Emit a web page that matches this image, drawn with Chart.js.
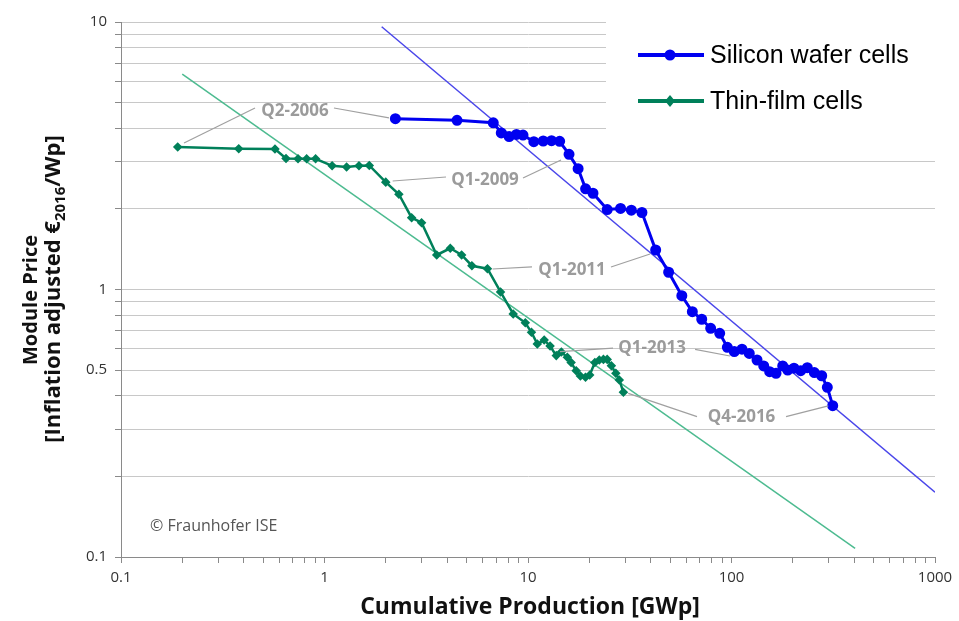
<!DOCTYPE html>
<html><head><meta charset="utf-8">
<script src="https://cdn.jsdelivr.net/npm/chart.js@4.4.0/dist/chart.umd.min.js"></script>
<style>html,body{margin:0;padding:0;background:#fff;}#wrap{width:959px;height:621px;position:relative;}</style>
</head><body><div id="wrap"><canvas id="c" width="959" height="621"></canvas></div>
<script>
// ---- data (cumulative production GWp, module price EUR2016/Wp) ----
const siliconX = [2.23,4.48,6.75,7.39,8.08,8.78,9.45,10.68,11.88,13.05,14.31,15.91,17.63,19.19,20.86,24.5,28.5,32.2,36.3,42.4,49.1,57.0,64.2,71.4,79.0,87.5,95.4,103.2,112.6,122.3,133.5,144.0,154.0,165.5,178.5,188.9,202.8,218.8,235.8,255.3,277.5,295.7,314.3];
const siliconY = [4.35,4.29,4.20,3.85,3.73,3.80,3.78,3.57,3.59,3.60,3.58,3.20,2.83,2.38,2.29,1.99,2.01,1.98,1.94,1.405,1.16,0.948,0.826,0.774,0.716,0.686,0.608,0.586,0.598,0.577,0.545,0.518,0.493,0.486,0.518,0.500,0.508,0.497,0.510,0.489,0.476,0.431,0.368];
const thinX = [0.190,0.379,0.571,0.647,0.741,0.817,0.904,1.09,1.284,1.477,1.66,2.00,2.32,2.68,3.00,3.56,4.15,4.72,5.30,6.32,7.33,8.46,9.70,10.40,11.11,12.01,12.84,13.77,14.59,15.60,16.29,17.25,18.09,19.17,20.10,21.30,22.40,23.48,24.50,25.69,27.01,28.10,29.43];
const thinY = [3.41,3.36,3.35,3.09,3.08,3.08,3.08,2.90,2.87,2.90,2.91,2.52,2.27,1.855,1.777,1.346,1.426,1.346,1.227,1.196,0.979,0.810,0.751,0.692,0.626,0.647,0.615,0.566,0.584,0.558,0.533,0.497,0.475,0.470,0.479,0.533,0.545,0.548,0.548,0.519,0.486,0.459,0.413];
const siliconTrendX = [1.91, 1000];
const siliconTrendY = [9.6, 0.1746];
const thinTrendX = [0.2, 405];
const thinTrendY = [6.39, 0.1078];
const seriesNames = ['Silicon wafer cells', 'Thin-film cells'];
const xTicks = [0.1,0.2,0.3,0.4,0.5,0.6,0.7,0.8,0.9,1,2,3,4,5,6,7,8,9,10,20,30,40,50,60,70,80,90,100,200,300,400,500,600,700,800,900,1000];
const xTickLabels = ['0.1','1','10','100','1000'];
const yTicks = [0.1,0.2,0.3,0.4,0.5,0.6,0.7,0.8,0.9,1,2,3,4,5,6,7,8,9,10];
const yTickLabels = ['0.1','0.5','1','10'];
const annotLabels = ['Q2-2006','Q1-2009','Q1-2011','Q1-2013','Q4-2016'];
const annotTextX = [0.716, 6.15, 16.45, 40.7, 112.0];
const annotTextY = [4.65, 2.567, 1.183, 0.604, 0.3346];
// leader lines: [x1,y1,x2,y2] in data units
const annotLines = [
  [0.204,3.53,0.4556,4.77],[1.113,4.77,2.075,4.38],
  [2.163,2.545,3.955,2.634],[9.45,2.61,14.53,3.05],
  [6.70,1.193,10.46,1.214],[25.58,1.214,39.8,1.357],
  [14.36,0.5855,26.17,0.604],[66.2,0.5976,98.3,0.564],
  [31.1,0.409,67.7,0.3346],[185.3,0.3346,299,0.367]
];
const xTitle = 'Cumulative Production [GWp]';
const yTitle1 = 'Module Price';
const copyright = '© Fraunhofer ISE';

const BLUE = '#0000f0', GREEN = '#00805a', BLUE_T = '#4a46ea', GREEN_T = '#4dbb90';
const F = '"Open Sans", "DejaVu Sans", sans-serif';

const pts = (xs, ys) => xs.map((x, i) => ({x, y: ys[i]}));

const deco = {
  id: 'deco',
  beforeDatasetsDraw(chart) {
    const ctx = chart.ctx;
    ctx.save();
    ctx.fillStyle = '#fff';
    ctx.fillRect(606, 8, 340, 130);
    ctx.restore();
  },
  afterDatasetsDraw(chart) {
    const ctx = chart.ctx, xs = chart.scales.x, ys = chart.scales.y;
    ctx.save();
    // annotation leader lines
    ctx.strokeStyle = '#a0a0a0'; ctx.lineWidth = 1.2;
    annotLines.forEach(l => {
      ctx.beginPath();
      ctx.moveTo(xs.getPixelForValue(l[0]), ys.getPixelForValue(l[1]));
      ctx.lineTo(xs.getPixelForValue(l[2]), ys.getPixelForValue(l[3]));
      ctx.stroke();
    });
    ctx.fillStyle = '#9b9b9b';
    ctx.font = 'bold 17px ' + F;
    ctx.textAlign = 'center'; ctx.textBaseline = 'middle';
    annotLabels.forEach((t, i) => {
      ctx.fillText(t, xs.getPixelForValue(annotTextX[i]), ys.getPixelForValue(annotTextY[i]));
    });
    // copyright
    ctx.fillStyle = '#555';
    ctx.font = '16px ' + F;
    ctx.textAlign = 'left';
    ctx.fillText(copyright, 150, 526);
    // legend
    const items = [[BLUE, 55, 'circle'], [GREEN, 101, 'diamond']];
    items.forEach((it, i) => {
      const [col, y, shape] = it;
      ctx.strokeStyle = col; ctx.lineWidth = 4;
      ctx.beginPath(); ctx.moveTo(638, y); ctx.lineTo(704, y); ctx.stroke();
      ctx.fillStyle = col;
      ctx.beginPath();
      if (shape === 'circle') { ctx.arc(670, y, 5.5, 0, Math.PI * 2); }
      else { ctx.moveTo(670, y - 6); ctx.lineTo(675, y); ctx.lineTo(670, y + 6); ctx.lineTo(665, y); ctx.closePath(); }
      ctx.fill();
      ctx.fillStyle = '#000';
      ctx.font = '25px "Liberation Sans", Arial, sans-serif';
      ctx.textAlign = 'left'; ctx.textBaseline = 'middle';
      ctx.fillText(seriesNames[i], 710, y + 1);
    });
    // x title
    ctx.fillStyle = '#111';
    ctx.font = 'bold 23px ' + F;
    ctx.textAlign = 'center'; ctx.textBaseline = 'alphabetic';
    ctx.fillText(xTitle, 530, 614);
    // y title (rotated, with subscript)
    ctx.save();
    ctx.rotate(-Math.PI / 2);
    ctx.textBaseline = 'alphabetic';
    ctx.textAlign = 'center';
    ctx.font = 'bold 20px ' + F;
    ctx.fillText(yTitle1, -300, 37);
    const a = '[Inflation adjusted €', sub = '2016', b = '/Wp]';
    const fMain = 'bold 22px ' + F, fSub = 'bold 15px ' + F;
    ctx.font = fMain; const wa = ctx.measureText(a).width, wb = ctx.measureText(b).width;
    ctx.font = fSub; const ws = ctx.measureText(sub).width;
    const x0 = -289 - (wa + ws + wb) / 2;
    ctx.textAlign = 'left';
    ctx.font = fMain; ctx.fillText(a, x0, 60);
    ctx.font = fSub; ctx.fillText(sub, x0 + wa, 65);
    ctx.font = fMain; ctx.fillText(b, x0 + wa + ws, 60);
    ctx.restore();
    ctx.restore();
  }
};

new Chart(document.getElementById('c'), {
  type: 'scatter',
  data: {
    datasets: [
      {label: seriesNames[0], data: pts(siliconX, siliconY), showLine: true, borderColor: BLUE, backgroundColor: BLUE, borderWidth: 3, pointRadius: 4, pointStyle: 'circle', order: 1},
      {label: seriesNames[1], data: pts(thinX, thinY), showLine: true, borderColor: GREEN, backgroundColor: GREEN, borderWidth: 2.5, pointRadius: 3, pointStyle: 'rectRot', order: 2},
      {label: 'trend si', data: pts(siliconTrendX, siliconTrendY), showLine: true, borderColor: BLUE_T, borderWidth: 1.5, pointRadius: 0, order: 3},
      {label: 'trend tf', data: pts(thinTrendX, thinTrendY), showLine: true, borderColor: GREEN_T, borderWidth: 1.5, pointRadius: 0, order: 4}
    ]
  },
  options: {
    responsive: false, animation: false, devicePixelRatio: 1,
    layout: {padding: {left: 0, top: 22, right: 24, bottom: 0}},
    plugins: {legend: {display: false}, tooltip: {enabled: false}},
    scales: {
      x: {
        type: 'logarithmic', min: 0.1, max: 1000,
        afterBuildTicks: s => { s.ticks = xTicks.map(v => ({value: v})); },
        afterFit: s => { s.height = 64; },
        ticks: {autoSkip: false, maxRotation: 0, color: '#333', padding: 6, font: {family: F, size: 15},
          callback: v => { const t = String(+v.toPrecision(6)); return xTickLabels.includes(t) ? t : ''; }},
        grid: {drawOnChartArea: false, drawTicks: true, tickLength: 6, color: '#8a8a8a'},
        border: {color: '#8a8a8a'}
      },
      y: {
        type: 'logarithmic', min: 0.1, max: 10,
        afterBuildTicks: s => { s.ticks = yTicks.map(v => ({value: v})); },
        afterFit: s => { s.width = 121; },
        ticks: {autoSkip: false, color: '#333', padding: 8, font: {family: F, size: 15},
          callback: v => { const t = String(+v.toPrecision(6)); return yTickLabels.includes(t) ? t : ''; }},
        grid: {color: '#c8c8c8', tickColor: '#8a8a8a', tickLength: 6, lineWidth: 1},
        border: {color: '#8a8a8a'}
      }
    }
  },
  plugins: [deco]
});
</script></body></html>
